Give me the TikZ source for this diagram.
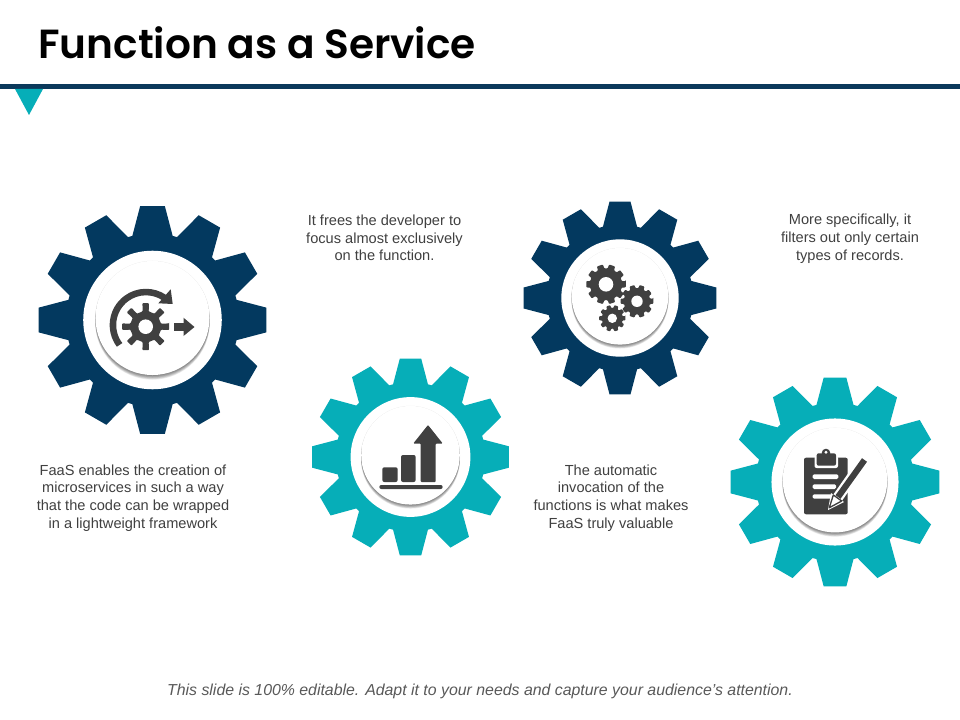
\documentclass[tikz,border=0pt]{standalone}
\usepackage{fontspec}
\setmainfont{Liberation Sans}
\newfontfamily\titlefont{Poppins SemiBold}
\definecolor{navy}{HTML}{03395F}
\definecolor{barnavy}{HTML}{0B395B}
\definecolor{teal}{HTML}{06AEB8}
\definecolor{icongrey}{HTML}{404040}
\definecolor{bodytext}{HTML}{404040}
\definecolor{foottext}{HTML}{595959}
\tikzset{
  blurb/.style={align=center,inner sep=0pt,text=bodytext,font=\fontsize{10.95pt}{13.25pt}\selectfont},
  iconfill/.style={fill=icongrey,draw=none},
}
\newcommand{\bigcog}[4]{%
  \begin{scope}[shift={(#1,#2)}]
    \fill[#4] (-6.2:#3) foreach \a in {0,30,...,330} {
      -- ({\a-6.2}:#3) -- ({\a+6.2}:#3) -- ({\a+13.5}:{0.755*#3}) -- ({\a+16.5}:{0.755*#3})
    } -- cycle;
    \fill[white] (0,0) circle ({0.605*#3});
    \foreach \k in {0,1,...,7} {
      \fill[black,opacity=0.08] (0,{-0.0175*#3+0.0055*#3*\k}) circle ({0.5*#3});
    }
    \fill[white] (0,{-0.0175*#3}) circle ({0.498*#3});
  \end{scope}}
\newcommand{\iconcog}[7]{%
  % cx cy R hole teeth tip-half-angle root-ratio
  \begin{scope}[shift={(#1,#2)}]
    \pgfmathsetmacro{\st}{360/#5}
    \pgfmathsetmacro{\en}{360-\st}
    \fill[icongrey,rounded corners=0.6pt] (-#6:#3) foreach \a in {0,\st,...,\en} {
      -- ({\a-#6}:#3) -- ({\a+#6}:#3) -- ({\a+#6+3}:{#7*#3}) -- ({\a+\st-#6-3}:{#7*#3})
    } -- cycle;
    \fill[white] (0,0) circle (#4);
  \end{scope}}
\begin{document}
\begin{tikzpicture}[x=0.75pt,y=-0.75pt]
\useasboundingbox (0,0) rectangle (960,720);
\fill[white] (0,0) rectangle (960,720);
% header
\fill[barnavy] (0,84) rectangle (960,89);
\fill[teal] (15,89) -- (43,89) -- (29,115) -- cycle;
\node[anchor=base west,inner sep=0pt,font=\titlefont\fontsize{30.5pt}{34pt}\selectfont,text=black] (title) at (38,59) {Function as a Service};
% gears
\bigcog{152.5}{320}{114.5}{navy}
\bigcog{410.5}{457}{99}{teal}
\bigcog{620}{298}{97}{navy}
\bigcog{835}{482}{105}{teal}
% icon 1
\iconcog{145.7}{326.7}{23.7}{7.3}{8}{8}{0.66}
\draw[icongrey,line width=4.9pt] (119.6,344.9) arc[start angle=143,end angle=305,radius=33];
\fill[iconfill] (170.7,289.3) -- (172.7,304) -- (158.3,303.3) -- cycle;
\fill[iconfill] (174,322.7) rectangle (184,331);
\fill[iconfill] (183.5,317.7) -- (194.5,327) -- (183.5,336) -- cycle;
% icon 2
\iconcog{606}{284.3}{20}{7.3}{10}{9}{0.8}
\iconcog{637}{301.3}{16.5}{5.7}{10}{9}{0.8}
\iconcog{612.3}{318.3}{13.3}{4.7}{10}{9}{0.78}
% icon 3
\fill[iconfill,rounded corners=1.5pt] (379.3,485) rectangle (442.7,489);
\fill[iconfill,rounded corners=1.5pt] (382.3,467.3) -- (397.7,467.3) -- (397.7,482) -- (382.3,482) -- cycle;
\fill[iconfill,rounded corners=1.5pt] (401,455) -- (415.7,455) -- (415.7,482) -- (401,482) -- cycle;
\fill[iconfill,rounded corners=0.7pt] (420.7,482) -- (420.7,443.5) -- (413.3,443.5) -- (428,425) -- (442.7,443.5) -- (435.7,443.5) -- (435.7,482) -- cycle;
% icon 4
\fill[iconfill,rounded corners=1.5pt] (804,457.7) rectangle (847.7,514.3);
\fill[white,rounded corners=1.5pt] (814.5,456) rectangle (838,468);
\fill[iconfill,rounded corners=1.5pt] (816.7,453.3) rectangle (836,465.7);
\fill[iconfill] (826,453) circle (4.3);
\fill[white] (826,452.3) circle (1.6);
\fill[white,rounded corners=1pt] (812.7,474.3) rectangle (838.3,479);
\fill[white,rounded corners=1pt] (812.7,484.3) rectangle (836,489);
\fill[white,rounded corners=1pt] (812.7,494.3) rectangle (831.7,498.6);
\draw[white,line width=8pt] (864,460) -- (836,500);
\draw[icongrey,line width=4.6pt] (864.5,460) -- (838,497);
\fill[white] (831,493) -- (844,502) -- (828,510) -- cycle;
\draw[icongrey,line width=1pt,line join=round] (833.3,495) -- (841.7,501) -- (829.3,507.7) -- cycle;
% text
\node[blurb] (t1) at (384.5,238) {It frees the developer to\\focus almost exclusively\\on the function.};
\node[blurb] (t2) at (850,238.8) {More specifically, it\\filters out only certain\\types of records.};
\node[blurb] (t3) at (133,498) {FaaS enables the creation of\\microservices in such a way\\that the code can be wrapped\\in a lightweight framework};
\node[blurb] (t4) at (611,498) {The automatic\\invocation of the\\functions is what makes\\FaaS truly valuable};
\node[inner sep=0pt,text=foottext,font=\itshape\fontsize{11.9pt}{14pt}\selectfont] (foot) at (480,691) {This slide is 100\% editable. Adapt it to your needs and capture your audience's attention.};
\end{tikzpicture}
\end{document}
